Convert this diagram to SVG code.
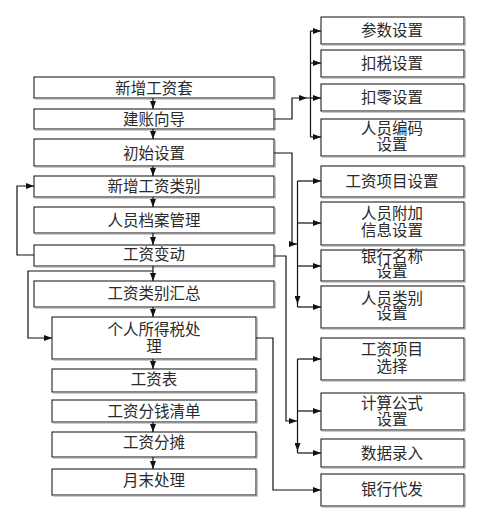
<svg xmlns="http://www.w3.org/2000/svg" width="489" height="523" viewBox="0 0 489 523">
<style>
.box{fill:#fff;stroke:#222;stroke-width:1.1}
.sh{fill:none;stroke:#999;stroke-width:1.2}
.t{font-family:"Noto Sans CJK SC","Noto Sans",sans-serif;font-size:15.5px;fill:#2a2a2a;text-anchor:middle}
.c{fill:none;stroke:#111;stroke-width:1.2}
.ca{fill:none;stroke:#111;stroke-width:1.2;marker-end:url(#ah)}
</style>
<defs>
<marker id="ah" viewBox="0 0 8 6" refX="8" refY="3" markerWidth="8" markerHeight="6" markerUnits="userSpaceOnUse" orient="auto"><path d="M0,0 L8,3 L0,6 z" fill="#111"/></marker>
</defs>
<rect width="489" height="523" fill="#fff"/>

<g id="n_xinzenggongzitao"><rect class="box" x="34" y="77" width="240" height="21"/><path class="sh" d="M35,99 H275 V78"/><text class="t" x="154" y="93.5">新增工资套</text></g>
<g id="n_jianzhangxiangdao"><rect class="box" x="34" y="109" width="240" height="20"/><path class="sh" d="M35,130 H275 V110"/><text class="t" x="154" y="124.5">建账向导</text></g>
<g id="n_chushishezhi"><rect class="box" x="34" y="139" width="240" height="27"/><path class="sh" d="M35,167 H275 V140"/><text class="t" x="154" y="158.5">初始设置</text></g>
<g id="n_xinzenggongzileibie"><rect class="box" x="34" y="176" width="240" height="21"/><path class="sh" d="M35,198 H275 V177"/><text class="t" x="154" y="192">新增工资类别</text></g>
<g id="n_renyuandangan"><rect class="box" x="34" y="207" width="240" height="26"/><path class="sh" d="M35,234 H275 V208"/><text class="t" x="154" y="225.5">人员档案管理</text></g>
<g id="n_gongzibiandong"><rect class="box" x="34" y="245" width="240" height="21"/><path class="sh" d="M35,267 H275 V246"/><text class="t" x="154" y="259.5">工资变动</text></g>
<g id="n_leibiehuizong"><rect class="box" x="34" y="281" width="240" height="26"/><path class="sh" d="M35,308 H275 V282"/><text class="t" x="154" y="298.5">工资类别汇总</text></g>
<g id="n_suodeshui"><rect class="box" x="52" y="317" width="204" height="42"/><path class="sh" d="M53,360 H257 V318"/><text class="t" x="154" y="335">个人所得税处<tspan x="154" dy="16.5">理</tspan></text></g>
<g id="n_gongzibiao"><rect class="box" x="52" y="369" width="204" height="23"/><path class="sh" d="M53,393 H257 V370"/><text class="t" x="154" y="384.5">工资表</text></g>
<g id="n_fenqianqingdan"><rect class="box" x="52" y="400" width="204" height="22"/><path class="sh" d="M53,423 H257 V401"/><text class="t" x="154" y="416.5">工资分钱清单</text></g>
<g id="n_gongzifentan"><rect class="box" x="52" y="432" width="204" height="25"/><path class="sh" d="M53,458 H257 V433"/><text class="t" x="154" y="448">工资分摊</text></g>
<g id="n_yuemochuli"><rect class="box" x="52" y="469" width="204" height="26"/><path class="sh" d="M53,496 H257 V470"/><text class="t" x="154" y="485.5">月末处理</text></g>

<g id="n_canshushezhi"><rect class="box" x="321" y="17" width="143" height="27"/><path class="sh" d="M322,45 H465 V18"/><text class="t" x="392" y="35.5">参数设置</text></g>
<g id="n_koushuishezhi"><rect class="box" x="321" y="50" width="143" height="27"/><path class="sh" d="M322,78 H465 V51"/><text class="t" x="392" y="69">扣税设置</text></g>
<g id="n_koulingshezhi"><rect class="box" x="321" y="84" width="143" height="27"/><path class="sh" d="M322,112 H465 V85"/><text class="t" x="392" y="102.5">扣零设置</text></g>
<g id="n_renyuanbianma"><rect class="box" x="321" y="119" width="143" height="37"/><path class="sh" d="M322,157 H465 V120"/><text class="t" x="392" y="134">人员编码<tspan x="392" dy="16">设置</tspan></text></g>
<g id="n_gongzixiangmushezhi"><rect class="box" x="321" y="166" width="143" height="31"/><path class="sh" d="M322,198 H465 V167"/><text class="t" x="392" y="186.5">工资项目设置</text></g>
<g id="n_renyuanfujia"><rect class="box" x="321" y="202" width="143" height="43"/><path class="sh" d="M322,246 H465 V203"/><text class="t" x="392" y="218.5">人员附加<tspan x="392" dy="17">信息设置</tspan></text></g>
<g id="n_yinhangmingcheng"><rect class="box" x="321" y="250" width="143" height="31"/><path class="sh" d="M322,282 H465 V251"/><text class="t" x="392" y="261.5">银行名称<tspan x="392" dy="15.5">设置</tspan></text></g>
<g id="n_renyuanleibie"><rect class="box" x="321" y="286" width="143" height="42"/><path class="sh" d="M322,329 H465 V287"/><text class="t" x="392" y="303.5">人员类别<tspan x="392" dy="15.5">设置</tspan></text></g>
<g id="n_gongzixiangmuxuanze"><rect class="box" x="321" y="338" width="143" height="42"/><path class="sh" d="M322,381 H465 V339"/><text class="t" x="392" y="354.5">工资项目<tspan x="392" dy="17.5">选择</tspan></text></g>
<g id="n_jisuangongshi"><rect class="box" x="321" y="393" width="143" height="37"/><path class="sh" d="M322,431 H465 V394"/><text class="t" x="392" y="408.5">计算公式<tspan x="392" dy="16">设置</tspan></text></g>
<g id="n_shujuluru"><rect class="box" x="321" y="439" width="143" height="28"/><path class="sh" d="M322,468 H465 V440"/><text class="t" x="392" y="458.5">数据录入</text></g>
<g id="n_yinhangdaifa"><rect class="box" x="321" y="474" width="143" height="32"/><path class="sh" d="M322,507 H465 V475"/><text class="t" x="392" y="494.5">银行代发</text></g>

<g id="connectors">
<path class="ca" d="M153,98 V109"/>
<path class="ca" d="M153,129 V139"/>
<path class="ca" d="M153,166 V176"/>
<path class="ca" d="M153,197 V207"/>
<path class="ca" d="M153,233 V245"/>
<path class="ca" d="M153,266 V281"/>
<path class="ca" d="M153,307 V317"/>
<path class="ca" d="M153,359 V369"/>
<path class="ca" d="M153,422 V432"/>
<path class="ca" d="M153,457 V469"/>

<path class="ca" d="M274,119 H292 V98 H307"/>
<path class="c" d="M307,98 H310.5 M310.5,31 V137"/>
<path class="ca" d="M310.5,31 H321"/>
<path class="ca" d="M310.5,63 H321"/>
<path class="ca" d="M310.5,98 H321"/>
<path class="ca" d="M310.5,137 H321"/>

<path class="ca" d="M274,153 H292 V244 H297"/>
<path class="ca" d="M297.5,181 V304"/>
<path class="c" d="M297.5,303 V307"/>
<path class="ca" d="M297.5,181 H321"/>
<path class="ca" d="M297.5,223 H321"/>
<path class="ca" d="M297.5,266 H321"/>
<path class="ca" d="M297.5,307 H321"/>

<path class="ca" d="M274,256 H286 V421 H297"/>
<path class="ca" d="M297.5,359 V451"/>
<path class="c" d="M297.5,450 V453"/>
<path class="ca" d="M297.5,359 H321"/>
<path class="ca" d="M297.5,411 H321"/>
<path class="ca" d="M297.5,453 H321"/>

<path class="ca" d="M256,338 H273 V490 H321"/>

<path class="ca" d="M34,255 H17 V186 H34"/>
<path class="ca" d="M153,271 H28 V338 H52"/>
</g>
</svg>
